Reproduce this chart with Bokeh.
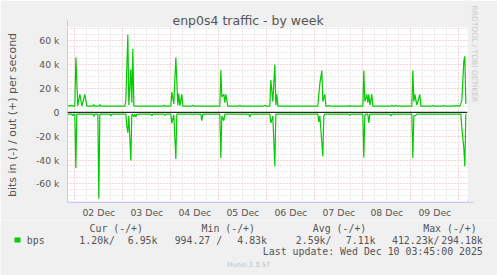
import pandas as pd
from bokeh.plotting import figure
from bokeh.layouts import column
from bokeh.core.properties import value
from bokeh.models import (Range1d, FixedTicker, DatetimeTickFormatter, CustomJSTickFormatter,
                          Grid, Span, Arrow, NormalHead, ColumnDataSource, Title)
from bokeh.embed import file_html
from bokeh.resources import INLINE

# ---------------- data ----------------
out_times = [
    "12-01 20:00", "12-01 22:30", "12-01 23:00", "12-02 00:00", "12-02 00:30", "12-02 01:30",
    "12-02 02:30", "12-02 03:30", "12-02 05:00", "12-02 06:00", "12-02 09:00", "12-02 09:30",
    "12-02 10:00", "12-02 12:00", "12-02 12:30", "12-02 13:00", "12-03 01:00", "12-03 01:30",
    "12-03 02:30", "12-03 03:00", "12-03 04:00", "12-03 04:30", "12-03 05:00", "12-03 05:30",
    "12-03 20:00", "12-03 20:30", "12-03 21:00", "12-04 00:00", "12-04 00:30", "12-04 01:30",
    "12-04 02:30", "12-04 03:30", "12-04 04:00", "12-04 04:30", "12-04 05:30", "12-04 06:00",
    "12-04 10:30", "12-04 11:00", "12-04 11:30", "12-05 00:30", "12-05 01:00", "12-05 01:30",
    "12-05 02:30", "12-05 03:00", "12-05 03:30", "12-05 04:30", "12-05 10:00", "12-05 10:30",
    "12-05 11:00", "12-05 22:30", "12-05 23:00", "12-05 23:30", "12-06 01:30", "12-06 02:00",
    "12-06 03:00", "12-06 04:00", "12-06 04:30", "12-06 05:00", "12-06 05:30", "12-07 01:30",
    "12-07 02:00", "12-07 02:30", "12-07 03:30", "12-07 04:00", "12-07 05:00", "12-07 05:30",
    "12-07 06:30", "12-07 07:00", "12-07 07:30", "12-07 17:00", "12-07 17:30", "12-07 18:00",
    "12-08 00:00", "12-08 00:30", "12-08 01:00", "12-08 02:00", "12-08 02:30", "12-08 03:00",
    "12-08 03:30", "12-08 04:30", "12-08 05:00", "12-08 14:00", "12-08 14:30", "12-08 15:00",
    "12-08 16:00", "12-08 16:30", "12-08 17:00", "12-09 00:30", "12-09 01:00", "12-09 01:30",
    "12-09 02:00", "12-09 03:00", "12-09 04:30", "12-09 05:00", "12-09 10:30", "12-09 11:00",
    "12-09 11:30", "12-09 16:00", "12-09 16:30", "12-09 17:00", "12-09 21:00", "12-09 21:30",
    "12-09 22:00", "12-09 22:30", "12-09 23:00", "12-09 23:30", "12-10 00:30", "12-10 01:30",
    "12-10 02:30", "12-10 03:00", "12-10 03:30",
]
out_bps = [
    5200, 5800, 5200, 5200, 46000, 5300,
    15200, 5300, 15000, 5200, 5200, 6600,
    5200, 5200, 6400, 5200, 5200, 10000,
    65000, 6000, 36000, 8000, 53000, 5200,
    5200, 6000, 5200, 5200, 17000, 7000,
    46000, 6000, 15800, 5500, 15000, 5200,
    5200, 6000, 5200, 5200, 35200, 13000,
    15000, 8000, 15000, 5200, 5200, 6000,
    5200, 5200, 6000, 5200, 5200, 27000,
    9000, 40000, 6000, 15000, 5200, 5200,
    15000, 24000, 35000, 9000, 15000, 5200,
    5200, 5800, 5200, 5200, 5600, 5200,
    5200, 35000, 9000, 15000, 8000, 15000,
    6000, 15000, 5200, 5200, 6000, 5200,
    5200, 6000, 5200, 5200, 35000, 9000,
    15000, 6000, 15000, 5200, 5200, 5800,
    5200, 5200, 5800, 5200, 5200, 5800,
    5200, 5200, 5800, 5200, 5200, 10000,
    43000, 47000, 6950,
]
in_times = [
    "12-01 20:00", "12-01 22:30", "12-01 23:00", "12-01 23:30", "12-02 00:00", "12-02 00:30",
    "12-02 01:00", "12-02 09:00", "12-02 09:30", "12-02 10:00", "12-02 11:30", "12-02 12:00",
    "12-02 12:30", "12-02 17:30", "12-02 18:00", "12-02 18:30", "12-03 01:30", "12-03 02:00",
    "12-03 02:30", "12-03 03:00", "12-03 04:00", "12-03 04:30", "12-03 05:30", "12-03 06:00",
    "12-03 06:30", "12-03 07:00", "12-03 14:00", "12-03 14:30", "12-03 15:00", "12-03 20:30",
    "12-03 21:00", "12-03 21:30", "12-04 00:00", "12-04 00:30", "12-04 01:30", "12-04 02:30",
    "12-04 03:00", "12-04 15:00", "12-04 15:30", "12-04 16:00", "12-05 00:30", "12-05 01:00",
    "12-05 01:30", "12-05 02:30", "12-05 03:00", "12-05 15:00", "12-05 15:30", "12-05 16:00",
    "12-06 01:30", "12-06 02:00", "12-06 03:00", "12-06 04:00", "12-06 04:30", "12-07 01:30",
    "12-07 02:00", "12-07 02:30", "12-07 04:00", "12-07 04:30", "12-07 05:00", "12-07 17:00",
    "12-07 17:30", "12-07 18:00", "12-08 00:00", "12-08 00:30", "12-08 01:00", "12-08 01:30",
    "12-08 02:30", "12-08 03:00", "12-08 03:30", "12-08 13:30", "12-08 14:00", "12-08 14:30",
    "12-09 00:30", "12-09 01:00", "12-09 01:30", "12-09 02:30", "12-09 03:00", "12-10 01:00",
    "12-10 01:30", "12-10 02:30", "12-10 03:00", "12-10 03:30",
]
in_bps = [
    -1500, -1500, -2700, -1500, -1500, -46700,
    -1500, -1500, -3500, -1500, -1500, -72300,
    -1500, -1500, -3000, -1500, -1500, -11400,
    -17000, -3000, -40300, -1500, -3500, -1500,
    -3900, -1500, -1500, -2700, -1500, -1500,
    -2500, -1500, -1500, -9200, -2000, -39200,
    -1500, -1500, -7000, -1500, -1500, -38300,
    -3000, -7000, -1500, -1500, -4000, -1500,
    -1500, -9000, -3000, -45300, -1500, -1500,
    -8000, -3000, -37000, -3000, -1500, -1500,
    -2500, -1500, -1500, -37800, -3000, -1500,
    -1500, -9000, -1500, -1500, -3000, -1500,
    -1500, -38300, -3000, -2500, -1500, -1500,
    -13000, -30000, -45300, -1200,
]
y_ticks = [-60000, -40000, -20000, 0, 20000, 40000, 60000]
y_minor = [v for v in range(-75000, 71000, 5000) if v % 20000 != 0]
day_lines = ["12-02 00:00", "12-03 00:00", "12-04 00:00", "12-05 00:00", "12-06 00:00",
             "12-07 00:00", "12-08 00:00", "12-09 00:00", "12-10 00:00"]
day_labels = ["12-02 12:00", "12-03 12:00", "12-04 12:00", "12-05 12:00", "12-06 12:00",
              "12-07 12:00", "12-08 12:00", "12-09 12:00"]
legend_headers = ["Cur (-/+)", "Min (-/+)", "Avg (-/+)", "Max (-/+)"]
legend_in = ["1.20k/", "994.27 /", "2.59k/", "412.23k/"]
legend_out = ["6.95k", "4.83k", "7.11k", "294.18k"]
series_name = "bps"
title_text = "enp0s4 traffic - by week"
ylabel_text = "bits in (-) / out (+) per second"
watermark = "RRDTOOL / TOBI OETIKER"
last_update = "Last update: Wed Dec 10 03:45:00 2025"
version_text = "Munin 2.0.57"


def ms(s):
    return pd.Timestamp("2025-" + s).value // 10**6


GREEN = "#00CC00"
TXT = "#555555"
AXIS = "#C8C8FF"
BG = "#F0F0F0"
W = 497
H_MAIN = 220
H_LEG = 275 - H_MAIN

# ---------------- main plot ----------------
p = figure(width=W, height=H_MAIN, x_axis_type="datetime",
           x_range=Range1d(ms("12-01 20:20"), ms("12-10 04:20")),
           y_range=Range1d(-75600, 71100),
           output_backend="svg", toolbar_location=None,
           min_border_left=67, min_border_right=30, min_border_top=27, min_border_bottom=17)
p.background_fill_color = "white"
p.border_fill_color = BG
p.outline_line_color = None

p.title.text = title_text
p.title.align = "left"
p.title.offset = 105
p.title.vertical_align = "bottom"
p.title.standoff = 0
p.title.text_font = "DejaVu Sans"
p.title.text_font_size = "12.5px"
p.title.text_font_style = "normal"
p.title.text_color = TXT

p.add_layout(Title(text=watermark, align="left", offset=-22, standoff=0, vertical_align="top",
                   text_font="DejaVu Sans", text_font_size="7.5px", text_font_style="normal",
                   text_color="#C8C8C8"), "right")

# grids
p.xgrid.grid_line_color = None
p.ygrid.grid_line_color = None
hour6 = [ms(d) + k * 6 * 3600 * 1000 for d in ["12-01 00:00"] + day_lines for k in (1, 2, 3)]
p.add_layout(Grid(dimension=0, ticker=FixedTicker(ticks=[ms(d) for d in day_lines], minor_ticks=hour6),
                  grid_line_color="#F0A8A8", grid_line_dash="1 2", grid_line_width=1,
                  minor_grid_line_color="#D0D0D0", minor_grid_line_dash="1 2"))
p.add_layout(Grid(dimension=1, ticker=FixedTicker(ticks=y_ticks, minor_ticks=y_minor),
                  grid_line_color="#F0A8A8", grid_line_dash="1 2", grid_line_width=1,
                  minor_grid_line_color="#D0D0D0", minor_grid_line_dash="1 2"))

# axes
p.yaxis.ticker = FixedTicker(ticks=y_ticks)
p.yaxis.formatter = CustomJSTickFormatter(code="return tick == 0 ? '0' : (tick/1000).toFixed(0) + ' k';")
p.xaxis.ticker = FixedTicker(ticks=[ms(d) for d in day_labels])
fmt = "%d %b"
p.xaxis.formatter = DatetimeTickFormatter(microseconds=fmt, milliseconds=fmt, seconds=fmt, minsec=fmt,
                                          minutes=fmt, hourmin=fmt, hours=fmt, days=fmt, months=fmt, years=fmt)
for ax in (p.xaxis, p.yaxis):
    ax.axis_line_color = AXIS
    ax.axis_line_width = 1
    ax.major_tick_line_color = None
    ax.minor_tick_line_color = None
    ax.major_tick_out = 0
    ax.major_tick_in = 0
    ax.minor_tick_out = 0
    ax.minor_tick_in = 0
    ax.major_label_text_font = "DejaVu Sans"
    ax.major_label_text_font_size = "9.3px"
    ax.major_label_text_color = TXT
p.yaxis.major_label_standoff = 8
p.xaxis.major_label_standoff = 4
p.yaxis.axis_label = ylabel_text
p.yaxis.axis_label_text_font = "DejaVu Sans"
p.yaxis.axis_label_text_font_size = "11px"
p.yaxis.axis_label_text_font_style = "normal"
p.yaxis.axis_label_text_color = TXT
p.yaxis.axis_label_standoff = 14

# data
src_out = ColumnDataSource(dict(t=[ms(s) for s in out_times], v=out_bps))
src_in = ColumnDataSource(dict(t=[ms(s) for s in in_times], v=in_bps))
p.add_layout(Span(location=0, dimension="width", line_color="black", line_width=1))
p.line("t", "v", source=src_out, line_color=GREEN, line_width=1.2)
p.line("t", "v", source=src_in, line_color=GREEN, line_width=1.2)

# axis arrows
p.add_layout(Arrow(end=NormalHead(size=6, fill_color=AXIS, line_color=AXIS), line_color=AXIS,
                   x_start=0, y_start=176, x_end=0, y_end=182, start_units="screen", end_units="screen"))
p.add_layout(Arrow(end=NormalHead(size=6, fill_color=AXIS, line_color=AXIS), line_color=AXIS,
                   x_start=400, y_start=0, x_end=406, y_end=0, start_units="screen", end_units="screen"))

# ---------------- legend strip (pixel coordinates, y downward) ----------------
q = figure(width=W, height=H_LEG, x_range=Range1d(0, W), y_range=Range1d(H_LEG, 0),
           x_axis_location=None, y_axis_location=None, output_backend="svg", toolbar_location=None,
           min_border=0)
q.background_fill_color = BG
q.border_fill_color = BG
q.outline_line_color = None
q.grid.visible = False
for fig in (p, q):
    if "frame_align" in fig.properties():
        fig.frame_align = False

mono = dict(text_font=value("DejaVu Sans Mono"), text_font_size=value("9.9px"), text_color=TXT,
            text_baseline="middle")
ROW0, ROW1, ROW2, ROW3 = 7.7, 19.5, 31.2, 44.3
q.text(x=[89, 201, 312.3, 422.7], y=[ROW0] * 4, text=legend_headers, text_align="left", **mono)
q.text(x=[26.3], y=[ROW1], text=[series_name], text_align="left", **mono)
q.text(x=[114.5, 221.7, 331, 439], y=[ROW1] * 4, text=legend_in, text_align="right", **mono)
q.text(x=[157, 266.5, 375, 482.3], y=[ROW1] * 4, text=legend_out, text_align="right", **mono)
q.text(x=[482.3], y=[ROW2], text=[last_update], text_align="right", **mono)
q.text(x=[248], y=[ROW3], text=[version_text], text_align="center", text_baseline="middle",
       text_font=value("DejaVu Sans"), text_font_size=value("6.6px"), text_color="#C0C0C0")
q.quad(left=[14], right=[20], top=[ROW1 - 2.6], bottom=[ROW1 + 2.4], fill_color=GREEN, line_color=None)

layout = column(p, q, spacing=0)
open("out.html", "w").write(file_html(layout, INLINE))
